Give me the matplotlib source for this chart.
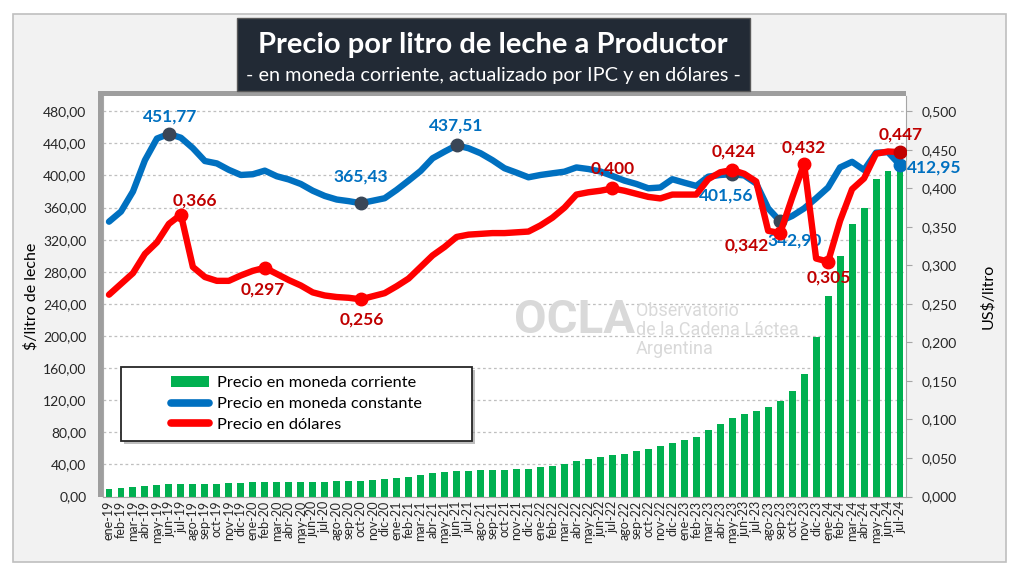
import matplotlib
matplotlib.use("Agg")
import matplotlib.pyplot as plt
from matplotlib.patches import Rectangle, Patch
from matplotlib.lines import Line2D
from matplotlib.ticker import FuncFormatter

plt.rcParams['font.family'] = ['Lato', 'DejaVu Sans']

# --- data ---
meses = ['ene', 'feb', 'mar', 'abr', 'may', 'jun', 'jul', 'ago', 'sep', 'oct', 'nov', 'dic']
anios = ['19', '20', '21', '22', '23', '24']
etiquetas = [f"{m}-{a}" for a in anios for m in meses][:67]

# $/litro, moneda corriente (barras)
corriente = [9.5, 10.3, 11.5, 13.6, 14.8, 15.7, 15.7, 15.7, 16.0, 16.0, 17.0, 17.3,
             17.7, 18.1, 18.5, 18.5, 18.5, 18.5, 18.5, 19.0, 19.0, 19.8, 20.2, 21.4,
             23.0, 24.3, 26.8, 28.9, 30.1, 31.8, 32.2, 32.6, 33.0, 33.0, 33.8, 34.6,
             36.3, 38.4, 40.8, 44.1, 46.2, 48.7, 51.1, 53.2, 56.5, 59.0, 62.7, 67.2,
             70.9, 74.6, 82.9, 90.7, 98.1, 102.7, 106.8, 110.9, 119.6, 131.1, 152.6, 198.8,
             250.0, 299.7, 339.0, 360.0, 395.0, 405.0, 412.95]

# $/litro, moneda constante (actualizado por IPC)
constante = [342.4, 355.0, 380.0, 419.0, 446.0, 451.77, 447.0, 434.0, 418.0, 415.0, 407.0, 400.6,
             401.5, 406.0, 399.0, 395.0, 389.4, 381.0, 374.5, 370.0, 368.0, 365.43, 368.5, 371.6,
             382.0, 393.6, 405.6, 421.4, 429.7, 437.51, 433.9, 427.7, 419.0, 409.0, 403.5, 397.7,
             400.6, 402.7, 404.7, 410.0, 408.0, 405.0, 399.4, 393.6, 389.4, 384.0, 385.0, 395.3,
             391.0, 387.0, 398.5, 400.6, 401.56, 400.0, 390.0, 359.0, 342.90, 349.5, 359.0, 371.6,
             385.0, 410.0, 417.0, 406.8, 428.4, 429.0, 412.95]

# US$/litro
dolares = [0.262, 0.276, 0.290, 0.315, 0.330, 0.354, 0.366, 0.298, 0.285, 0.280, 0.280, 0.287,
           0.293, 0.297, 0.289, 0.281, 0.274, 0.265, 0.261, 0.259, 0.258, 0.256, 0.260, 0.264,
           0.273, 0.283, 0.298, 0.313, 0.324, 0.337, 0.340, 0.341, 0.342, 0.342, 0.343, 0.344,
           0.352, 0.362, 0.375, 0.392, 0.395, 0.397, 0.400, 0.397, 0.393, 0.389, 0.387, 0.392,
           0.392, 0.392, 0.412, 0.421, 0.424, 0.419, 0.409, 0.345, 0.342, 0.388, 0.432, 0.309,
           0.305, 0.358, 0.399, 0.413, 0.445, 0.448, 0.447]

# highlighted points: (index, label, offset in pixels, ha)
marcas_const = [(5, '451,77', (1, 17), 'center'), (21, '365,43', (0, 27), 'center'),
                (29, '437,51', (0, 20), 'center'), (52, '401,56', (-6, -21), 'center'),
                (56, '342,90', (14, -19), 'center'), (66, '412,95', (7, -2), 'left')]
marcas_usd = [(6, '0,366', (14, 14)), (13, '0,297', (-2, -22)), (21, '0,256', (1, -20)),
              (42, '0,400', (0, 20)), (52, '0,424', (1, 18)), (56, '0,342', (-33, -12)),
              (58, '0,432', (0, 16)), (60, '0,305', (1, -16)), (66, '0,447', (1, 18))]

VERDE = '#00b050'
AZUL = '#0070c0'
ROJO = '#ff0000'
ROJO_OSC = '#c00000'
GRIS_MARCA = '#3a4656'

W, H = 1024, 571
def fx(px):
    return px / W
def fy(py):
    return 1 - py / H

fig = plt.figure(figsize=(W / 100, H / 100), dpi=100, facecolor='white')

# outer gray panel
fig.add_artist(Rectangle((fx(13), fy(562)), fx(1006) - fx(13), fy(14) - fy(562),
                         transform=fig.transFigure, facecolor='#f2f2f2',
                         edgecolor='#bfbfbf', lw=1.2, zorder=-3))
# shadow behind plot area
fig.add_artist(Rectangle((fx(98), fy(496.5)), fx(906) - fx(98), fy(91) - fy(496.5),
                         transform=fig.transFigure, facecolor='#595959',
                         edgecolor='none', alpha=0.55, zorder=-2))

ax = fig.add_axes([fx(103), fy(496.5), fx(906) - fx(103), fy(96) - fy(496.5)])
ax.set_facecolor('white')
x = list(range(len(etiquetas)))

ax.bar(x, corriente, width=0.58, color=VERDE, zorder=2)
ax.plot(x, constante, color=AZUL, lw=4.6, solid_capstyle='round', solid_joinstyle='round', zorder=3)
ax.set_xlim(-0.5, len(x) - 0.5)
ax.set_ylim(0, 499)
ax.set_yticks([v for v in range(0, 481, 40)])
ax.yaxis.set_major_formatter(FuncFormatter(lambda v, p: f"{v:.2f}".replace('.', ',')))
ax.yaxis.grid(True, ls=(0, (2.2, 2.2)), color='#bfbfbf', lw=0.9)
ax.set_axisbelow(True)
ax.set_xticks(x)
ax.set_xticklabels(etiquetas, rotation=90, fontsize=9, color='#262626')
ax.tick_params(axis='x', length=0, pad=3)
ax.tick_params(axis='y', length=0, labelsize=10, labelcolor='#262626', pad=12)
ax.set_ylabel('$/litro de leche', fontsize=11.5, color='#000000', labelpad=3)
for s in ['top', 'right']:
    ax.spines[s].set_visible(False)
ax.spines['left'].set_color('#a6a6a6')
ax.spines['bottom'].set_color('#a6a6a6')

# markers and labels on constant-price line
for i, txt, off, ha in marcas_const:
    col = AZUL if i == len(x) - 1 else GRIS_MARCA
    ax.plot(i, constante[i], 'o', ms=9, color=col, zorder=4)
    ax.annotate(txt, (i, constante[i]), xytext=off, textcoords='offset pixels',
                ha=ha, va='center', fontsize=12.5, fontweight='bold', color=AZUL, zorder=6)

# right axis: dollars
ax2 = ax.twinx()
ax2.plot(x, dolares, color=ROJO, lw=4.6, solid_capstyle='round', solid_joinstyle='round', zorder=3)
ax2.set_ylim(0, 0.52)
ax2.set_yticks([v / 1000 for v in range(0, 501, 50)])
ax2.yaxis.set_major_formatter(FuncFormatter(lambda v, p: f"{v:.3f}".replace('.', ',')))
ax2.tick_params(axis='y', length=4, color='#a6a6a6', labelsize=10, labelcolor='#262626', pad=7)
ax2.set_ylabel('US$/litro', fontsize=11.5, color='#000000', labelpad=17)
for s in ['top', 'left', 'bottom']:
    ax2.spines[s].set_visible(False)
ax2.spines['right'].set_color('#a6a6a6')

for i, txt, off in marcas_usd:
    col = ROJO_OSC if i == len(x) - 1 else ROJO
    ax2.plot(i, dolares[i], 'o', ms=9, color=col, zorder=4)
    ax2.annotate(txt, (i, dolares[i]), xytext=off, textcoords='offset pixels',
                 ha='center', va='center', fontsize=12.5, fontweight='bold', color=ROJO_OSC, zorder=6)

# watermark
ax.text(fx(575), fy(320), 'OCLA', transform=fig.transFigure, ha='center', va='center',
        fontsize=34, fontweight='bold', color='#d9d9d9', family=['Roboto', 'DejaVu Sans'], zorder=1)
ax.text(fx(636), fy(330), 'Observatorio\nde la Cadena Láctea\nArgentina', transform=fig.transFigure,
        ha='left', va='center', fontsize=13, color='#d9d9d9', linespacing=1.05,
        family=['Roboto', 'DejaVu Sans'], zorder=1)

# legend: box drawn separately, content centred in it
lx0, ly0, lx1, ly1 = 121, 367, 472, 441
ax2.add_artist(Rectangle((fx(lx0) + 0.003, fy(ly1) - 0.006), fx(lx1) - fx(lx0), fy(ly0) - fy(ly1),
                         transform=fig.transFigure, facecolor='#7f7f7f', alpha=0.5,
                         edgecolor='none', zorder=7))
ax2.add_artist(Rectangle((fx(lx0), fy(ly1)), fx(lx1) - fx(lx0), fy(ly0) - fy(ly1),
                         transform=fig.transFigure, facecolor='white', edgecolor='#262626',
                         lw=1.3, zorder=8))
handles = [Patch(facecolor=VERDE, edgecolor='none'),
           Line2D([], [], color=AZUL, lw=5.5, solid_capstyle='round'),
           Line2D([], [], color=ROJO, lw=5.5, solid_capstyle='round')]
labels = ['Precio en moneda corriente', 'Precio en moneda constante', 'Precio en dólares']
leg = ax2.legend(handles, labels, loc='center', frameon=False, fontsize=11.8,
                 bbox_to_anchor=(fx(lx0), fy(ly1), fx(lx1) - fx(lx0), fy(ly0) - fy(ly1)),
                 bbox_transform=fig.transFigure, handlelength=2.3, handleheight=0.6,
                 handletextpad=0.5, labelspacing=0.42, borderpad=0.2)
leg.set_zorder(9)

# title box
fig.add_artist(Rectangle((fx(237), fy(91)), fx(750) - fx(237), fy(18) - fy(91),
                         transform=fig.transFigure, facecolor='#222a35',
                         edgecolor='#595959', lw=1, zorder=5))
fig.text(fx(493), fy(45), 'Precio por litro de leche a Productor', ha='center', va='center',
         fontsize=21, fontweight='bold', color='white', zorder=6)
fig.text(fx(493), fy(76), '- en moneda corriente, actualizado por IPC y en dólares -',
         ha='center', va='center', fontsize=14.3, color='white', zorder=6)

fig.savefig('out.png', dpi=100, facecolor=fig.get_facecolor())
